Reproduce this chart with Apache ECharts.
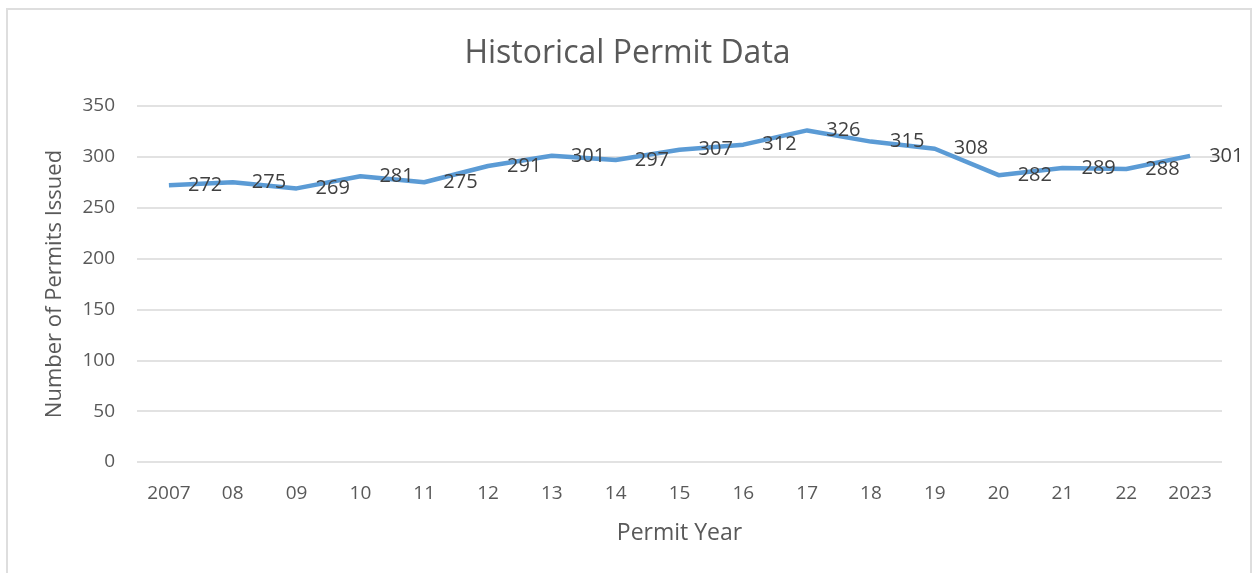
<!DOCTYPE html>
<html>
<head>
<meta charset="utf-8">
<script src="https://cdn.jsdelivr.net/npm/echarts@6/dist/echarts.min.js"></script>
<style>
  html, body { margin: 0; padding: 0; background: #fff; overflow: hidden; }
  #frame { position: absolute; left: 6px; top: 8px; width: 1242px; height: 580px; border: 2px solid #dedede; }
  #chart { position: absolute; left: 0; top: 0; width: 1255px; height: 573px; }
</style>
</head>
<body>
<div id="frame"></div>
<div id="chart"></div>
<script>
// permit years as printed on the axis
var years = ['2007', '08', '09', '10', '11', '12', '13', '14', '15', '16', '17', '18', '19', '20', '21', '22', '2023'];
// number of permits issued per year
var permits = [272, 275, 269, 281, 275, 291, 301, 297, 307, 312, 326, 315, 308, 282, 289, 288, 301];

var font = 'Open Sans, Liberation Sans, sans-serif';
var myChart = echarts.init(document.getElementById('chart'));
var option = {
  title: {
    text: 'Historical Permit Data',
    left: 'center',
    top: 33,
    textStyle: { fontFamily: font, fontSize: 32, fontWeight: 'normal', color: '#595959' }
  },
  grid: { left: 137, right: 33, top: 106, bottom: 111 },
  xAxis: {
    type: 'category',
    data: years,
    boundaryGap: true,
    name: 'Permit Year',
    nameLocation: 'middle',
    nameGap: 60,
    nameTextStyle: { fontFamily: font, fontSize: 23, color: '#595959' },
    axisLine: { show: false },
    axisTick: { show: false },
    axisLabel: { fontFamily: font, fontSize: 19, color: '#595959', margin: 22 }
  },
  yAxis: {
    type: 'value',
    min: 0,
    max: 350,
    interval: 50,
    name: 'Number of Permits Issued',
    nameLocation: 'middle',
    nameGap: 71,
    nameTextStyle: { fontFamily: font, fontSize: 22, color: '#595959' },
    axisLine: { show: false },
    axisTick: { show: false },
    axisLabel: { fontFamily: font, fontSize: 19, color: '#595959', margin: 22 },
    splitLine: { lineStyle: { color: '#d9d9d9', width: 1.5 } }
  },
  series: [{
    type: 'line',
    data: permits,
    symbol: 'circle',
    symbolSize: 0.1,
    showSymbol: true,
    itemStyle: { color: 'rgba(91,155,213,0)' },
    lineStyle: { color: '#5b9bd5', width: 4.5 },
    label: {
      show: true,
      position: 'right',
      distance: 19,
      fontFamily: font,
      fontSize: 20,
      color: '#404040'
    }
  }]
};
option && myChart.setOption(option);
</script>
</body>
</html>
